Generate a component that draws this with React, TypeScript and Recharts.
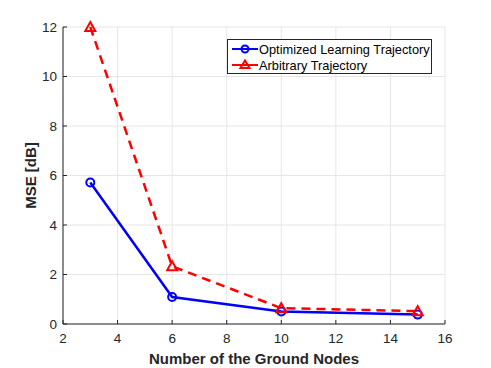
import { CartesianGrid, Label, Legend, Line, LineChart, XAxis, YAxis } from 'recharts';

const nodes = [3, 6, 10, 15];
const optimizedMse = [5.72, 1.09, 0.51, 0.38];
const arbitraryMse = [12.0, 2.33, 0.64, 0.52];

const xTicks = [2, 4, 6, 8, 10, 12, 14, 16];
const yTicks = [0, 2, 4, 6, 8, 10, 12];

const seriesNames = ['Optimized Learning Trajectory', 'Arbitrary Trajectory'];

const data = nodes.map((n, i) => ({ n, opt: optimizedMse[i], arb: arbitraryMse[i] }));

const axisColor = '#262626';
const font = '"Liberation Sans", Arial, Helvetica, sans-serif';
const tickStyle = { fontSize: 13.5, fill: axisColor, fontFamily: font };
const titleStyle = { fontSize: 15, fontWeight: 'bold', fill: axisColor, fontFamily: font };

const Circle = (props: any) => {
  const { cx, cy } = props;
  if (cx == null || cy == null) return null;
  return <circle cx={cx} cy={cy} r={4} fill="none" stroke="#0000ff" strokeWidth={2} />;
};

const Triangle = (props: any) => {
  const { cx, cy } = props;
  if (cx == null || cy == null) return null;
  const s = 5;
  return (
    <path
      d={`M${cx},${cy - s} L${cx + s},${cy + s * 0.8} L${cx - s},${cy + s * 0.8} Z`}
      fill="none"
      stroke="#ff0000"
      strokeWidth={2}
    />
  );
};

const LegendBox = () => (
  <div
    style={{
      border: `1px solid ${axisColor}`,
      background: '#fff',
      width: 203,
      height: 33,
      fontFamily: font,
      fontSize: 12.8,
      color: '#000',
      boxSizing: 'content-box',
    }}
  >
    {seriesNames.map((name, i) => (
      <div key={name} style={{ display: 'flex', alignItems: 'center', height: 16, marginTop: i === 0 ? 1 : 0 }}>
        <svg width={32} height={16} style={{ marginLeft: 2, flexShrink: 0 }}>
          <line x1={2} y1={8} x2={28} y2={8} stroke={i === 0 ? '#0000ff' : '#ff0000'} strokeWidth={2} />
          {i === 0 ? (
            <circle cx={15} cy={8} r={3.5} fill="none" stroke="#0000ff" strokeWidth={2} />
          ) : (
            <path d="M15,3.5 L19.5,11 L10.5,11 Z" fill="none" stroke="#ff0000" strokeWidth={2} />
          )}
        </svg>
        <span style={{ marginLeft: -3, whiteSpace: 'nowrap' }}>{name}</span>
      </div>
    ))}
  </div>
);

export default function App() {
  return (
    <div style={{ position: 'absolute', left: 0, top: 0, background: '#fff' }}>
      <LineChart width={491} height={368} data={data} margin={{ top: 27, right: 46, left: 0, bottom: 0 }}>
        <CartesianGrid stroke="#e6e6e6" strokeWidth={1} />
        <XAxis
          dataKey="n"
          type="number"
          domain={[2, 16]}
          ticks={xTicks}
          height={44}
          tickSize={-4}
          tickMargin={13}
          tick={tickStyle}
          stroke={axisColor}
        >
          <Label value="Number of the Ground Nodes" position="insideBottom" offset={4} style={titleStyle} />
        </XAxis>
        <XAxis
          xAxisId="top"
          orientation="top"
          dataKey="n"
          type="number"
          domain={[2, 16]}
          ticks={xTicks}
          height={0}
          tickSize={-4}
          tickFormatter={() => ''}
          stroke={axisColor}
        />
        <YAxis
          type="number"
          domain={[0, 12]}
          ticks={yTicks}
          width={63}
          tickSize={-4}
          tickMargin={10}
          tick={tickStyle}
          stroke={axisColor}
        >
          <Label
            value="MSE [dB]"
            angle={-90}
            position="insideLeft"
            offset={31}
            style={{ ...titleStyle, textAnchor: 'middle' }}
          />
        </YAxis>
        <YAxis
          yAxisId="right"
          orientation="right"
          type="number"
          domain={[0, 12]}
          ticks={yTicks}
          width={0}
          tickSize={-4}
          tickFormatter={() => ''}
          stroke={axisColor}
        />
        <Legend
          layout="vertical"
          verticalAlign="middle"
          align="center"
          wrapperStyle={{ left: 227, top: 39, width: 205 }}
          content={() => <LegendBox />}
        />
        <Line
          dataKey="opt"
          name={seriesNames[0]}
          stroke="#0000ff"
          strokeWidth={2.5}
          dot={<Circle />}
          activeDot={false}
          isAnimationActive={false}
        />
        <Line
          dataKey="arb"
          name={seriesNames[1]}
          stroke="#ff0000"
          strokeWidth={2.5}
          strokeDasharray="9 6"
          dot={<Triangle />}
          activeDot={false}
          isAnimationActive={false}
        />
      </LineChart>
    </div>
  );
}
